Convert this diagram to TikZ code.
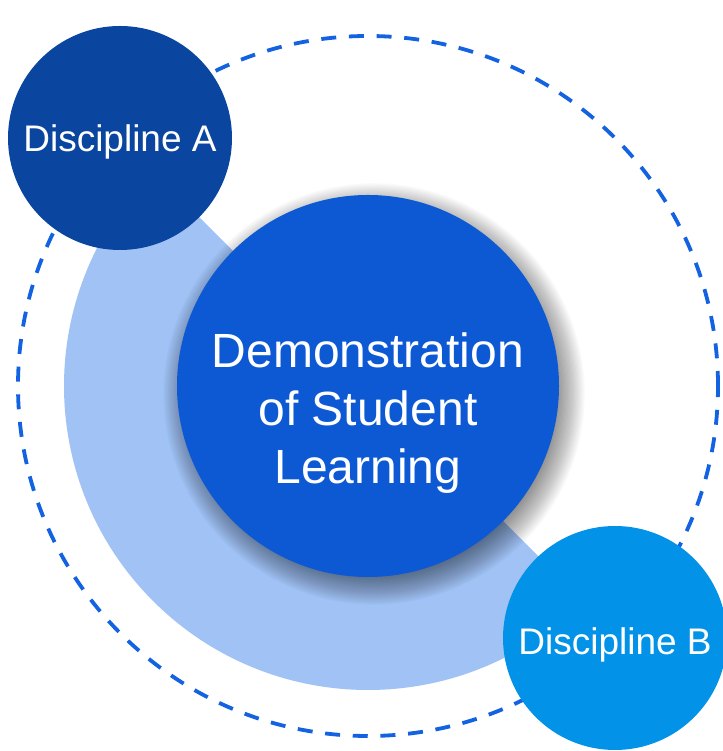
\documentclass[tikz,border=0pt]{standalone}
\usepackage{fontspec}
\setmainfont{Liberation Sans}
\begin{document}
\begin{tikzpicture}[x=1pt,y=1pt,
  disc/.style={circle,inner sep=0pt,outer sep=0pt,minimum size=224pt},
  lbl/.style={text=white,inner sep=0pt,outer sep=0pt,font=\fontsize{37}{44}\selectfont},
  dashring/.style={draw=ringColor,line width=3.8pt,dash pattern=on 15pt off 12.7pt}]
\definecolor{fillColor}{RGB}{255,255,255}
\definecolor{ringColor}{RGB}{18,98,226}
\definecolor{halfColor}{RGB}{160,194,245}
\definecolor{centreColor}{RGB}{13,89,212}
\definecolor{discAColor}{RGB}{10,69,160}
\definecolor{discBColor}{RGB}{2,147,232}
\path[use as bounding box,fill=fillColor] (0,0) rectangle (722,751);
\coordinate (O) at (368,365);

% outer dashed ring
\path[dashring] (O) circle (350);

% light half disc below the diagonal
\path[fill=halfColor] ([shift={(135:304)}]O) arc[start angle=135,end angle=315,radius=304] -- cycle;

% soft shadow of the centre circle
\foreach \k in {0,...,29}
  \path[fill=black,fill opacity=0.019] ([xshift=6pt,yshift=-8pt]O) circle (176+1.2*\k);

\node[disc,minimum size=382pt,fill=centreColor] (centre) at (O) {};
\node[lbl,align=center,font=\fontsize{48}{58}\selectfont] (centretext) at ([yshift=-27pt]centre.center)
  {Demonstration\\of Student\\Learning};

\node[disc,fill=discAColor] (discA) at (120,613) {};
\node[lbl,anchor=base] (labelA) at ([yshift=-14pt]discA.center) {Discipline A};

\node[disc,fill=discBColor] (discB) at (615,113) {};
\node[lbl,anchor=base] (labelB) at ([yshift=-17pt]discB.center) {Discipline B};
\end{tikzpicture}
\end{document}
